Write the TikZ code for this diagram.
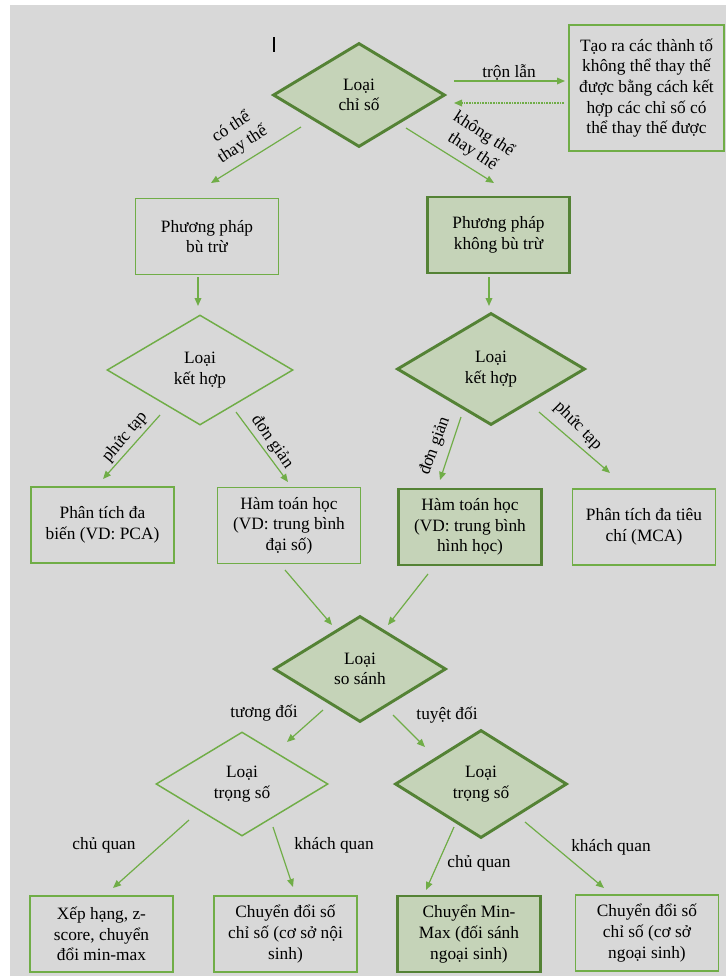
\documentclass[tikz,border=0pt]{standalone}
\usepackage{fontspec}
\setmainfont{Liberation Serif}
\usetikzlibrary{shapes.geometric,arrows.meta}
\definecolor{bg}{HTML}{D8D8D8}
\definecolor{gl}{HTML}{70AD47}
\definecolor{gd}{HTML}{548235}
\definecolor{gf}{HTML}{C5D3B8}
\begin{document}
\begin{tikzpicture}[x=0.75pt,y=-0.75pt,
  txt/.style={font=\fontsize{13pt}{15.5pt}\selectfont, align=center, text=black},
  boxthin/.style={txt, draw=gl, line width=1.1pt, minimum width=107pt, minimum height=57pt, inner sep=2pt},
  boxthick/.style={boxthin, draw=gd, fill=gf, line width=2.2pt},
  dthin/.style={txt, diamond, draw=gl, line width=1.1pt, inner sep=0pt},
  dthick/.style={dthin, draw=gd, fill=gf, line width=2.2pt},
  arr/.style={draw=gl, line width=0.9pt, -{Triangle[length=6pt,width=5pt]}},
  lab/.style={txt, inner sep=1pt},
]
\useasboundingbox (0,0) rectangle (726,976);
\fill[bg] (10,5) rectangle (726,976);
\coordinate (cur1) at (274,37);
\coordinate (cur2) at (274,52);
\draw[black, line width=0.8pt] (cur1) -- (cur2);

% diamonds
\node[dthick, minimum width=129pt, minimum height=78pt] (d1) at (359,95) {Loại\\chỉ số};
\node[dthin, minimum width=139.5pt, minimum height=82.5pt] (dL) at (200,370) {Loại\\kết hợp};
\node[dthick, minimum width=141pt, minimum height=84pt] (dR) at (491,369) {Loại\\kết hợp};
\node[dthick, minimum width=129pt, minimum height=79.5pt] (dC) at (360,669) {Loại\\so sánh};
\node[dthin, minimum width=129pt, minimum height=78pt] (dWL) at (242,784) {Loại\\trọng số};
\node[dthick, minimum width=129pt, minimum height=81pt] (dWR) at (481,784) {Loại\\trọng số};

% boxes
\node[boxthin, minimum width=116pt, minimum height=94.5pt] (rb) at (646.5,88) {Tạo ra các thành tố\\không thể thay thế\\được bằng cách kết\\hợp các chỉ số có\\thể thay thế được};
\node[boxthin] (bL1) at (207,236.5) {Phương pháp\\bù trừ};
\node[boxthick] (bR1) at (498.5,235) {Phương pháp\\không bù trừ};
\node[boxthin] (b31) at (102.5,525) {Phân tích đa\\biến (VD: PCA)};
\node[boxthin] (b32) at (289,525.5) {Hàm toán học\\(VD: trung bình\\đại số)};
\node[boxthick] (b33) at (470,527) {Hàm toán học\\(VD: trung bình\\hình học)};
\node[boxthin] (b34) at (644,527) {Phân tích đa tiêu\\chí (MCA)};
\node[boxthin] (b51) at (101.5,934) {Xếp hạng, z-\\score, chuyển\\đổi min-max};
\node[boxthin] (b52) at (285.5,934) {Chuyển đổi số\\chỉ số (cơ sở nội\\sinh)};
\node[boxthick] (b53) at (469,934) {Chuyển Min-\\Max (đối sánh\\ngoại sinh)};
\node[boxthin] (b54) at (647,933) {Chuyển đổi số\\chỉ số (cơ sở\\ngoại sinh)};

% arrow end coordinates
\coordinate (a1s) at (301,127); \coordinate (a1e) at (211,183);
\coordinate (a2s) at (406,128); \coordinate (a2e) at (494,183);
\coordinate (a3s) at (454,81);  \coordinate (a3e) at (565,81);
\coordinate (a4s) at (564,103); \coordinate (a4e) at (454,103);
\coordinate (a5s) at (198,277); \coordinate (a5e) at (198,306);
\coordinate (a6s) at (489,277); \coordinate (a6e) at (489,306);
\coordinate (a7s) at (160,415); \coordinate (a7e) at (103,479);
\coordinate (a8s) at (236,412); \coordinate (a8e) at (288,482);
\coordinate (a9s) at (461,417); \coordinate (a9e) at (440,480);
\coordinate (a10s) at (539,412); \coordinate (a10e) at (610,473);
\coordinate (a11s) at (285,570); \coordinate (a11e) at (332,625);
\coordinate (a12s) at (428,574); \coordinate (a12e) at (388,625);
\coordinate (a13s) at (323,710); \coordinate (a13e) at (287,742);
\coordinate (a14s) at (393,715); \coordinate (a14e) at (425,747);
\coordinate (a15s) at (189,820); \coordinate (a15e) at (113,888);
\coordinate (a16s) at (273,827); \coordinate (a16e) at (293,887);
\coordinate (a17s) at (454,827); \coordinate (a17e) at (426,890);
\coordinate (a18s) at (525,822); \coordinate (a18e) at (604,888);

\draw[arr] (a1s) -- (a1e);
\draw[arr] (a2s) -- (a2e);
\draw[arr] (a3s) -- (a3e);
\draw[arr, dash pattern=on 1.2pt off 0.8pt] (a4s) -- (a4e);
\draw[arr] (a5s) -- (a5e);
\draw[arr] (a6s) -- (a6e);
\draw[arr] (a7s) -- (a7e);
\draw[arr] (a8s) -- (a8e);
\draw[arr] (a9s) -- (a9e);
\draw[arr] (a10s) -- (a10e);
\draw[arr] (a11s) -- (a11e);
\draw[arr] (a12s) -- (a12e);
\draw[arr] (a13s) -- (a13e);
\draw[arr] (a14s) -- (a14e);
\draw[arr] (a15s) -- (a15e);
\draw[arr] (a16s) -- (a16e);
\draw[arr] (a17s) -- (a17e);
\draw[arr] (a18s) -- (a18e);

% labels
\node[lab] (l3) at (509,72) {trộn lẫn};
\node[lab, rotate=33] (l1) at (237,136) {có thể\\thay thế};
\node[lab, rotate=-33] (l2) at (478,143) {không thể\\thay thế};
\node[lab, rotate=50] (l7) at (125,437) {phức tạp};
\node[lab, rotate=-55] (l8) at (272,442) {đơn giản};
\node[lab, rotate=70] (l9) at (435,446) {đơn giản};
\node[lab, rotate=-45] (l10) at (578,426) {phức tạp};
\node[lab] (l13) at (264,713) {tương đối};
\node[lab] (l14) at (447,715) {tuyệt đối};
\node[lab] (l15) at (104,845) {chủ quan};
\node[lab] (l16) at (334,845) {khách quan};
\node[lab] (l17) at (479,863) {chủ quan};
\node[lab] (l18) at (611,847) {khách quan};
\end{tikzpicture}
\end{document}
